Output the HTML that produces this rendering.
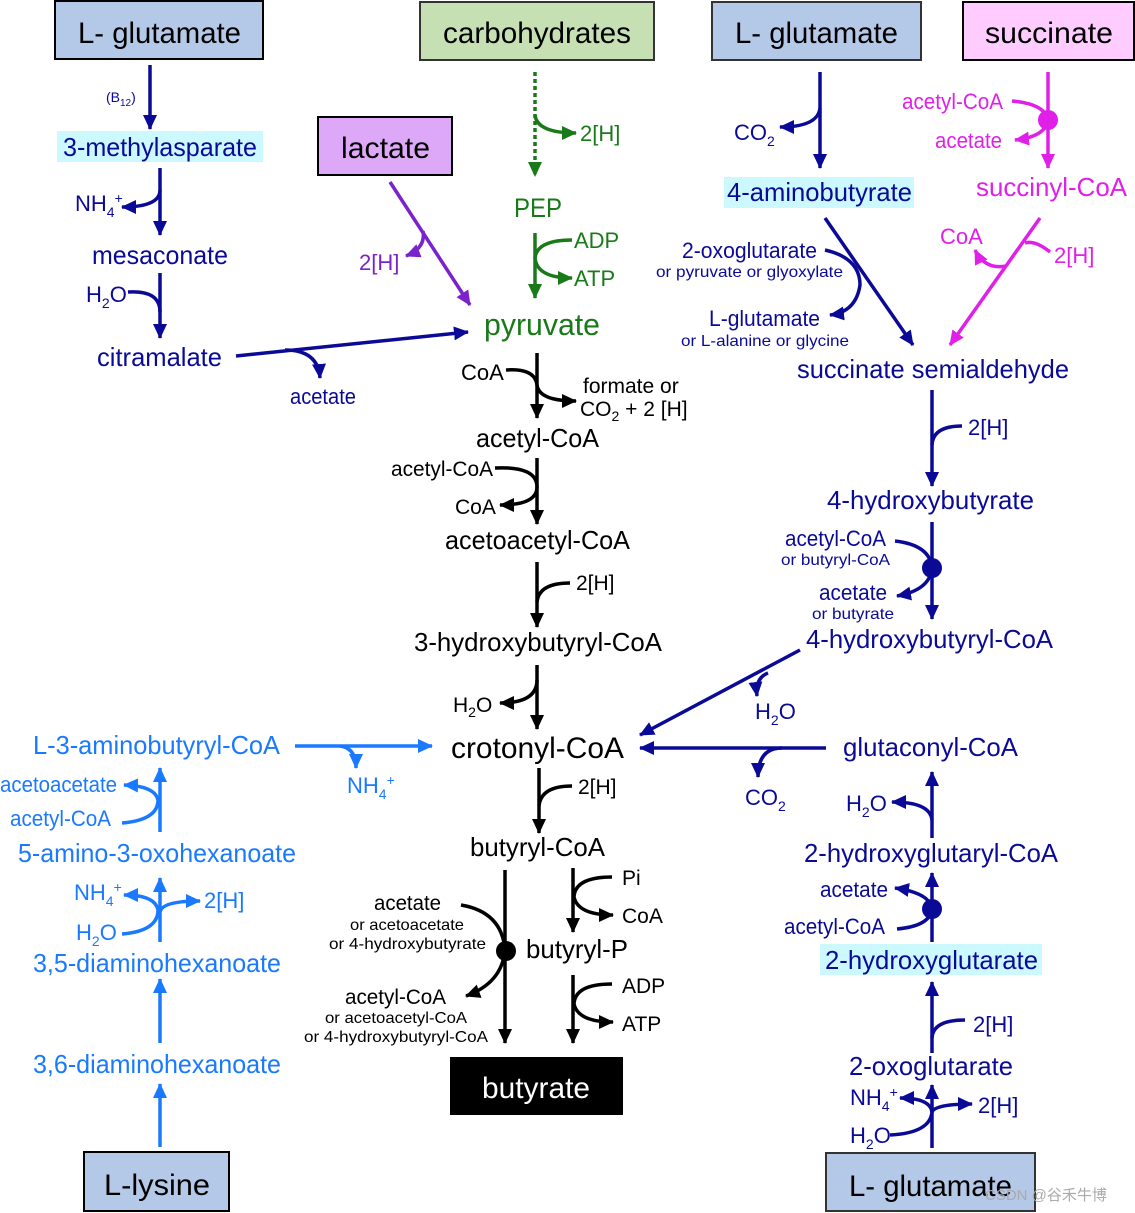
<!DOCTYPE html>
<html><head><meta charset="utf-8"><style>
html,body{margin:0;padding:0;background:#fff}
svg{display:block}
text{font-family:"Liberation Sans","Noto Sans CJK SC",sans-serif}
</style></head><body>
<svg width="1135" height="1213" viewBox="0 0 1135 1213" xmlns="http://www.w3.org/2000/svg">
<defs>
<marker id="an" markerUnits="userSpaceOnUse" markerWidth="16" markerHeight="16" refX="14" refY="8" orient="auto"><path d="M0,1 L15,8 L0,15 Z" fill="#0a0a96"/></marker>
<marker id="ak" markerUnits="userSpaceOnUse" markerWidth="16" markerHeight="16" refX="14" refY="8" orient="auto"><path d="M0,1 L15,8 L0,15 Z" fill="#000"/></marker>
<marker id="ag" markerUnits="userSpaceOnUse" markerWidth="16" markerHeight="16" refX="14" refY="8" orient="auto"><path d="M0,1 L15,8 L0,15 Z" fill="#1a7a1a"/></marker>
<marker id="ap" markerUnits="userSpaceOnUse" markerWidth="16" markerHeight="16" refX="14" refY="8" orient="auto"><path d="M0,1 L15,8 L0,15 Z" fill="#7b22cc"/></marker>
<marker id="am" markerUnits="userSpaceOnUse" markerWidth="16" markerHeight="16" refX="14" refY="8" orient="auto"><path d="M0,1 L15,8 L0,15 Z" fill="#e020e8"/></marker>
<marker id="ab" markerUnits="userSpaceOnUse" markerWidth="16" markerHeight="16" refX="14" refY="8" orient="auto"><path d="M0,1 L15,8 L0,15 Z" fill="#1a7aff"/></marker>
</defs>

<rect x="55" y="1" width="208" height="58" fill="#b4c8e8" stroke="#000" stroke-width="2"/>
<text x="78" y="43" font-size="30" textLength="163" lengthAdjust="spacingAndGlyphs">L- glutamate</text>
<rect x="420" y="2" width="234" height="58" fill="#c6e0b4" stroke="#333" stroke-width="2"/>
<text x="443" y="43" font-size="30" textLength="188" lengthAdjust="spacingAndGlyphs">carbohydrates</text>
<rect x="712" y="2" width="209" height="58" fill="#b4c8e8" stroke="#333" stroke-width="2"/>
<text x="735" y="43" font-size="30" textLength="163" lengthAdjust="spacingAndGlyphs">L- glutamate</text>
<rect x="963" y="2" width="171" height="58" fill="#ffccff" stroke="#000" stroke-width="2"/>
<text x="985" y="43" font-size="30" textLength="128" lengthAdjust="spacingAndGlyphs">succinate</text>
<rect x="318" y="117" width="134" height="58" fill="#dda8f8" stroke="#000" stroke-width="2"/>
<text x="341" y="158" font-size="30" textLength="89" lengthAdjust="spacingAndGlyphs">lactate</text>
<rect x="84" y="1152" width="145" height="59" fill="#b4c8e8" stroke="#000" stroke-width="2"/>
<text x="104" y="1195" font-size="30" textLength="106" lengthAdjust="spacingAndGlyphs">L-lysine</text>
<rect x="826" y="1153" width="209" height="58" fill="#b4c8e8" stroke="#333" stroke-width="2"/>
<text x="849" y="1196" font-size="30" textLength="163" lengthAdjust="spacingAndGlyphs">L- glutamate</text>
<rect x="450" y="1057" width="173" height="58" fill="#000"/>
<text x="482" y="1098" font-size="30" fill="#fff" textLength="108" lengthAdjust="spacingAndGlyphs">butyrate</text>

<rect x="57" y="131" width="206" height="31" fill="#ccf8ff"/>
<rect x="724" y="177" width="190" height="31" fill="#ccf8ff"/>
<rect x="820" y="944" width="222" height="31" fill="#ccf8ff"/>

<g fill="#0a0a96" font-size="26">
<text x="106" y="102" font-size="14">(B<tspan font-size="10" dy="4">12</tspan><tspan dy="-4">)</tspan></text>
<text x="63" y="156" textLength="194" lengthAdjust="spacingAndGlyphs">3-methylasparate</text>
<text x="75" y="211" font-size="22">NH<tspan font-size="14" dy="6">4</tspan><tspan font-size="14" dy="-14">+</tspan></text>
<text x="92" y="264" textLength="136" lengthAdjust="spacingAndGlyphs">mesaconate</text>
<text x="86" y="302" font-size="22">H<tspan font-size="14" dy="6">2</tspan><tspan dy="-6">O</tspan></text>
<text x="97" y="366" textLength="125" lengthAdjust="spacingAndGlyphs">citramalate</text>
<text x="290" y="404" font-size="22" textLength="66" lengthAdjust="spacingAndGlyphs">acetate</text>
</g>
<g stroke="#0a0a96" stroke-width="3.5" fill="none">
<line x1="150" y1="65" x2="150" y2="129" marker-end="url(#an)"/>
<line x1="160" y1="168" x2="160" y2="235" marker-end="url(#an)"/>
<path d="M160,190 Q160,207 122,207" marker-end="url(#an)"/>
<line x1="160" y1="273" x2="160" y2="338" marker-end="url(#an)"/>
<path d="M128,292 Q160,290 160,312"/>
<line x1="236" y1="356" x2="468" y2="332" marker-end="url(#an)"/>
<path d="M285,350 Q318,350 320,378" marker-end="url(#an)"/>
</g>

<g stroke="#1a7a1a" stroke-width="3.5" fill="none">
<line x1="535" y1="72" x2="535" y2="176" stroke-dasharray="4,3" marker-end="url(#ag)"/>
<path d="M535,115 Q537,133 576,133" marker-end="url(#ag)"/>
<line x1="535" y1="233" x2="535" y2="298" marker-end="url(#ag)"/>
<path d="M572,240 Q537,240 535,258 Q537,278 572,278" marker-end="url(#ag)"/>
</g>
<g fill="#1a7a1a">
<text x="580" y="141" font-size="22">2[H]</text>
<text x="514" y="217" font-size="27" textLength="48" lengthAdjust="spacingAndGlyphs">PEP</text>
<text x="574" y="248" font-size="22">ADP</text>
<text x="574" y="286" font-size="22">ATP</text>
<text x="484" y="335" font-size="31" textLength="116" lengthAdjust="spacingAndGlyphs">pyruvate</text>
</g>
<g stroke="#7b22cc" stroke-width="3.5" fill="none">
<line x1="390" y1="182" x2="470" y2="305" marker-end="url(#ap)"/>
<path d="M423,231 Q426,248 406,256" marker-end="url(#ap)"/>
</g>
<text x="359" y="270" font-size="22" fill="#7b22cc">2[H]</text>

<g stroke="#000" stroke-width="3.5" fill="none">
<line x1="537" y1="353" x2="537" y2="418" marker-end="url(#ak)"/>
<path d="M506,370 Q535,368 537,385 Q539,401 576,401" marker-end="url(#ak)"/>
<line x1="537" y1="458" x2="537" y2="524" marker-end="url(#ak)"/>
<path d="M495,468 Q537,466 537,487 Q537,505 500,505" marker-end="url(#ak)"/>
<line x1="537" y1="562" x2="537" y2="627" marker-end="url(#ak)"/>
<path d="M537,602 Q539,583 570,583"/>
<line x1="537" y1="665" x2="537" y2="729" marker-end="url(#ak)"/>
<path d="M537,680 Q537,703 500,703" marker-end="url(#ak)"/>
<line x1="539" y1="768" x2="539" y2="833" marker-end="url(#ak)"/>
<path d="M539,806 Q541,786 572,786"/>
<line x1="505" y1="870" x2="505" y2="1043" marker-end="url(#ak)"/>
<line x1="573" y1="868" x2="573" y2="932" marker-end="url(#ak)"/>
<path d="M612,877 Q575,877 574,897 Q578,915 613,915" marker-end="url(#ak)"/>
<line x1="573" y1="975" x2="573" y2="1043" marker-end="url(#ak)"/>
<path d="M612,984 Q575,984 574,1004 Q578,1022 613,1022" marker-end="url(#ak)"/>
<path d="M461,905 Q502,912 505,950 Q502,983 466,996" marker-end="url(#ak)"/>
</g>
<circle cx="506" cy="951" r="10" fill="#000"/>
<g fill="#000" font-size="22">
<text x="461" y="380">CoA</text>
<text x="583" y="393" font-size="21">formate or</text>
<text x="580" y="416" font-size="21">CO<tspan font-size="14" dy="5">2</tspan><tspan dy="-5"> + 2 [H]</tspan></text>
<text x="476" y="447" font-size="26" textLength="123" lengthAdjust="spacingAndGlyphs">acetyl-CoA</text>
<text x="391" y="476" font-size="21" textLength="102" lengthAdjust="spacingAndGlyphs">acetyl-CoA</text>
<text x="455" y="514" font-size="21">CoA</text>
<text x="445" y="549" font-size="26" textLength="185" lengthAdjust="spacingAndGlyphs">acetoacetyl-CoA</text>
<text x="576" y="590" font-size="21">2[H]</text>
<text x="414" y="651" font-size="26" textLength="248" lengthAdjust="spacingAndGlyphs">3-hydroxybutyryl-CoA</text>
<text x="453" y="712" font-size="21">H<tspan font-size="14" dy="5">2</tspan><tspan dy="-5">O</tspan></text>
<text x="451" y="758" font-size="30" textLength="173" lengthAdjust="spacingAndGlyphs">crotonyl-CoA</text>
<text x="578" y="794" font-size="21">2[H]</text>
<text x="470" y="856" font-size="26" textLength="135" lengthAdjust="spacingAndGlyphs">butyryl-CoA</text>
<text x="622" y="885" font-size="21">Pi</text>
<text x="622" y="923" font-size="21">CoA</text>
<text x="526" y="958" font-size="26" textLength="102" lengthAdjust="spacingAndGlyphs">butyryl-P</text>
<text x="622" y="993" font-size="21">ADP</text>
<text x="622" y="1031" font-size="21">ATP</text>
<text x="374" y="910" font-size="21" textLength="67" lengthAdjust="spacingAndGlyphs">acetate</text>
<text x="350" y="930" font-size="16" textLength="114" lengthAdjust="spacingAndGlyphs">or acetoacetate</text>
<text x="329" y="949" font-size="16" textLength="157" lengthAdjust="spacingAndGlyphs">or 4-hydroxybutyrate</text>
<text x="345" y="1004" font-size="21" textLength="101" lengthAdjust="spacingAndGlyphs">acetyl-CoA</text>
<text x="325" y="1023" font-size="16" textLength="142" lengthAdjust="spacingAndGlyphs">or acetoacetyl-CoA</text>
<text x="304" y="1042" font-size="16" textLength="184" lengthAdjust="spacingAndGlyphs">or 4-hydroxybutyryl-CoA</text>
</g>

<g stroke="#0a0a96" stroke-width="3.5" fill="none">
<line x1="820" y1="72" x2="820" y2="168" marker-end="url(#an)"/>
<path d="M820,108 Q818,127 780,127" marker-end="url(#an)"/>
<line x1="825" y1="218" x2="913" y2="345" marker-end="url(#an)"/>
<path d="M825,250 Q860,258 860,285 Q856,312 830,315" marker-end="url(#an)"/>
<line x1="932" y1="390" x2="932" y2="486" marker-end="url(#an)"/>
<path d="M932,445 Q933,426 962,426"/>
<line x1="932" y1="522" x2="932" y2="619" marker-end="url(#an)"/>
<path d="M895,541 Q930,545 932,568 Q930,590 897,596" marker-end="url(#an)"/>
<line x1="800" y1="650" x2="640" y2="735" marker-end="url(#an)"/>
<path d="M768,673 Q755,678 757,696" marker-end="url(#an)"/>
<line x1="826" y1="748" x2="640" y2="748" marker-end="url(#an)"/>
<path d="M782,748 Q758,748 758,777" marker-end="url(#an)"/>
<line x1="932" y1="838" x2="932" y2="772" marker-end="url(#an)"/>
<path d="M932,820 Q930,802 892,802" marker-end="url(#an)"/>
<line x1="932" y1="942" x2="932" y2="873" marker-end="url(#an)"/>
<path d="M897,929 Q930,926 932,909 Q930,893 895,888" marker-end="url(#an)"/>
<line x1="932" y1="1053" x2="932" y2="982" marker-end="url(#an)"/>
<path d="M932,1038 Q933,1020 965,1020"/>
<line x1="932" y1="1148" x2="932" y2="1085" marker-end="url(#an)"/>
<path d="M890,1135 Q930,1133 932,1112 Q930,1098 900,1098" marker-end="url(#an)"/>
<path d="M932,1112 Q935,1104 972,1104" marker-end="url(#an)"/>
</g>
<circle cx="932" cy="568" r="10" fill="#0a0a96"/>
<circle cx="932" cy="909" r="10" fill="#0a0a96"/>
<g fill="#0a0a96" font-size="22">
<text x="734" y="140">CO<tspan font-size="14" dy="6">2</tspan></text>
<text x="727" y="201" font-size="26" textLength="185" lengthAdjust="spacingAndGlyphs">4-aminobutyrate</text>
<text x="682" y="258" textLength="135" lengthAdjust="spacingAndGlyphs">2-oxoglutarate</text>
<text x="656" y="277" font-size="16" textLength="187" lengthAdjust="spacingAndGlyphs">or pyruvate or glyoxylate</text>
<text x="709" y="326" textLength="111" lengthAdjust="spacingAndGlyphs">L-glutamate</text>
<text x="681" y="346" font-size="16" textLength="168" lengthAdjust="spacingAndGlyphs">or L-alanine or glycine</text>
<text x="797" y="378" font-size="26" textLength="272" lengthAdjust="spacingAndGlyphs">succinate semialdehyde</text>
<text x="968" y="435">2[H]</text>
<text x="827" y="509" font-size="26" textLength="207" lengthAdjust="spacingAndGlyphs">4-hydroxybutyrate</text>
<text x="785" y="546" textLength="101" lengthAdjust="spacingAndGlyphs">acetyl-CoA</text>
<text x="781" y="565" font-size="16" textLength="109" lengthAdjust="spacingAndGlyphs">or butyryl-CoA</text>
<text x="819" y="600" textLength="68" lengthAdjust="spacingAndGlyphs">acetate</text>
<text x="812" y="619" font-size="16" textLength="82" lengthAdjust="spacingAndGlyphs">or butyrate</text>
<text x="806" y="648" font-size="26" textLength="247" lengthAdjust="spacingAndGlyphs">4-hydroxybutyryl-CoA</text>
<text x="755" y="719">H<tspan font-size="14" dy="6">2</tspan><tspan dy="-6">O</tspan></text>
<text x="843" y="756" font-size="26" textLength="175" lengthAdjust="spacingAndGlyphs">glutaconyl-CoA</text>
<text x="745" y="805">CO<tspan font-size="14" dy="6">2</tspan></text>
<text x="846" y="811">H<tspan font-size="14" dy="6">2</tspan><tspan dy="-6">O</tspan></text>
<text x="804" y="862" font-size="26" textLength="254" lengthAdjust="spacingAndGlyphs">2-hydroxyglutaryl-CoA</text>
<text x="820" y="897" textLength="68" lengthAdjust="spacingAndGlyphs">acetate</text>
<text x="784" y="934" textLength="101" lengthAdjust="spacingAndGlyphs">acetyl-CoA</text>
<text x="825" y="969" font-size="26" textLength="213" lengthAdjust="spacingAndGlyphs">2-hydroxyglutarate</text>
<text x="973" y="1032">2[H]</text>
<text x="849" y="1075" font-size="26" textLength="164" lengthAdjust="spacingAndGlyphs">2-oxoglutarate</text>
<text x="850" y="1105">NH<tspan font-size="14" dy="6">4</tspan><tspan font-size="14" dy="-14">+</tspan></text>
<text x="978" y="1113">2[H]</text>
<text x="850" y="1143">H<tspan font-size="14" dy="6">2</tspan><tspan dy="-6">O</tspan></text>
</g>

<g stroke="#e020e8" stroke-width="3.5" fill="none">
<line x1="1048" y1="72" x2="1048" y2="168" marker-end="url(#am)"/>
<path d="M1012,101 Q1045,104 1048,120 Q1045,137 1015,140" marker-end="url(#am)"/>
<line x1="1040" y1="218" x2="950" y2="345" marker-end="url(#am)"/>
<path d="M1006,266 Q985,270 975,250" marker-end="url(#am)"/>
<path d="M1050,252 Q1035,240 1025,243"/>
</g>
<circle cx="1048" cy="120" r="10" fill="#e020e8"/>
<g fill="#e020e8" font-size="22">
<text x="902" y="109" textLength="101" lengthAdjust="spacingAndGlyphs">acetyl-CoA</text>
<text x="935" y="148" textLength="67" lengthAdjust="spacingAndGlyphs">acetate</text>
<text x="976" y="196" font-size="26" textLength="151" lengthAdjust="spacingAndGlyphs">succinyl-CoA</text>
<text x="940" y="244">CoA</text>
<text x="1054" y="263">2[H]</text>
</g>

<g stroke="#1a7aff" stroke-width="3.5" fill="none">
<line x1="295" y1="746" x2="432" y2="746" marker-end="url(#ab)"/>
<path d="M340,746 Q356,748 356,768" marker-end="url(#ab)"/>
<line x1="160" y1="832" x2="160" y2="768" marker-end="url(#ab)"/>
<path d="M122,823 Q158,820 158,800 Q155,786 124,785" marker-end="url(#ab)"/>
<line x1="160" y1="942" x2="160" y2="878" marker-end="url(#ab)"/>
<path d="M122,934 Q158,931 158,910 Q155,895 124,895" marker-end="url(#ab)"/>
<path d="M160,912 Q162,901 200,901" marker-end="url(#ab)"/>
<line x1="160" y1="1043" x2="160" y2="979" marker-end="url(#ab)"/>
<line x1="160" y1="1147" x2="160" y2="1084" marker-end="url(#ab)"/>
</g>
<g fill="#1a7aff" font-size="22">
<text x="33" y="754" font-size="26" textLength="247" lengthAdjust="spacingAndGlyphs">L-3-aminobutyryl-CoA</text>
<text x="347" y="793">NH<tspan font-size="14" dy="6">4</tspan><tspan font-size="14" dy="-14">+</tspan></text>
<text x="0" y="792" textLength="117" lengthAdjust="spacingAndGlyphs">acetoacetate</text>
<text x="10" y="826" textLength="101" lengthAdjust="spacingAndGlyphs">acetyl-CoA</text>
<text x="18" y="862" font-size="26" textLength="278" lengthAdjust="spacingAndGlyphs">5-amino-3-oxohexanoate</text>
<text x="74" y="900">NH<tspan font-size="14" dy="6">4</tspan><tspan font-size="14" dy="-14">+</tspan></text>
<text x="204" y="908">2[H]</text>
<text x="76" y="940">H<tspan font-size="14" dy="6">2</tspan><tspan dy="-6">O</tspan></text>
<text x="33" y="972" font-size="26" textLength="248" lengthAdjust="spacingAndGlyphs">3,5-diaminohexanoate</text>
<text x="33" y="1073" font-size="26" textLength="248" lengthAdjust="spacingAndGlyphs">3,6-diaminohexanoate</text>
</g>

<text x="985" y="1200" font-size="15" fill="#aaa">CSDN @谷禾牛博</text>
</svg>
</body></html>
